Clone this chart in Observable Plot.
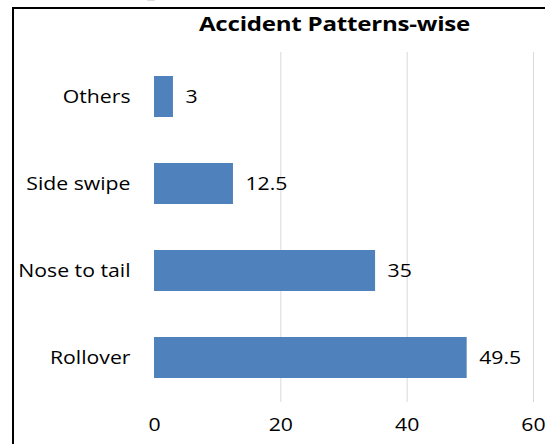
<!DOCTYPE html>
<html>
<head>
<meta charset="utf-8">
<script src="https://cdn.jsdelivr.net/npm/d3@7"></script>
<script src="https://cdn.jsdelivr.net/npm/@observablehq/plot@0.6"></script>
<style>
  html, body { margin: 0; padding: 0; background: #fff; }
  #wrap { position: relative; width: 545px; height: 444px; overflow: hidden; background: #fff; }
  #frame { position: absolute; left: 12px; top: 7px; width: 600px; height: 500px; border: 2px solid #000; box-sizing: border-box; }
  #title { position: absolute; left: 134px; width: 401px; top: 11px; text-align: center; white-space: nowrap;
           font-family: "Open Sans", sans-serif; font-weight: bold; font-size: 19px; color: #000;
           transform: scaleX(1.27); transform-origin: center; letter-spacing: -0.2px; }
  #chart { position: absolute; left: 0; top: 0; }
</style>
</head>
<body>
<div id="wrap">
  <div id="frame"></div>
  <div id="title">Accident Patterns-wise</div>
  <div id="chart"></div>
</div>
<script>
const categories = ["Others", "Side swipe", "Nose to tail", "Rollover"];
const values = [3, 12.5, 35, 49.5];
const xTicks = [0, 20, 40, 60];

const data = categories.map((c, i) => ({category: c, value: values[i]}));
const font = "Open Sans, sans-serif";
const stretch = 1.18;

// y-axis line with tick marks at category boundaries (Excel style)
function boundaryTicks(index, scales, vals, dims) {
  const y = scales.y, x = scales.x;
  const step = y(categories[1]) - y(categories[0]);
  const bw = y.bandwidth || 0;
  const g = d3.create("svg:g").attr("stroke", "#d9d9d9").attr("stroke-width", 1);
  const x0 = Math.round(x(0)) + 0.5;
  const top = y(categories[0]) + bw / 2 - step / 2;
  const bottom = y(categories[categories.length - 1]) + bw / 2 + step / 2;
  g.append("line").attr("x1", x0).attr("x2", x0).attr("y1", top).attr("y2", bottom);
  for (let i = 0; i <= categories.length; i++) {
    const yy = Math.round(top + i * step) + 0.5;
    g.append("line").attr("x1", x0 - 7).attr("x2", x0).attr("y1", yy).attr("y2", yy);
  }
  return g.node();
}

const chart = Plot.plot({
  width: 545,
  height: 444,
  marginLeft: 154,
  marginRight: 12,
  marginTop: 52,
  marginBottom: 42,
  style: {fontFamily: font, fontSize: "18px", color: "#000", background: "transparent"},
  x: {domain: [0, 60], ticks: xTicks, label: null},
  y: {domain: categories, paddingInner: 0.53, paddingOuter: 0.265, label: null},
  marks: [
    Plot.gridX(xTicks.slice(1), {stroke: "#d9d9d9", strokeOpacity: 1}),
    Plot.axisX(xTicks, {tickSize: 0, tickPadding: 16, label: null, fontSize: 18, fill: "#000"}),
    Plot.axisY({tickSize: 0, tickPadding: 24, label: null, fontSize: 18, fill: "#000"}),
    boundaryTicks,
    Plot.barX(data, {x: "value", y: "category", fill: "#4F81BD"}),
    Plot.text(data, {x: "value", y: "category", text: d => String(d.value), textAnchor: "start", dx: 12, fontSize: 18, fill: "#000"})
  ]
});

// widen glyphs horizontally around each text's anchor point (reference text is stretched)
chart.querySelectorAll("text").forEach(t => {
  const tr = t.getAttribute("transform");
  if (tr && /^translate\(/.test(tr.trim())) {
    t.setAttribute("transform", `${tr} scale(${stretch},1)`);
  }
});

document.getElementById("chart").appendChild(chart);
</script>
</body>
</html>
